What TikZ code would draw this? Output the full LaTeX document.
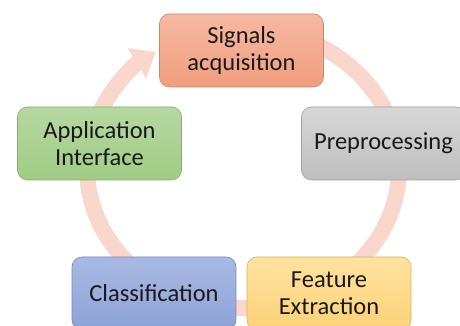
\documentclass[tikz,border=0pt]{standalone}
\usepackage{fontspec}
\setmainfont{Carlito}
\usepackage{tikz}
\usetikzlibrary{arrows.meta}

\definecolor{ringpink}{RGB}{249,215,205}
\definecolor{sigtop}{RGB}{246,185,162}
\definecolor{sigbot}{RGB}{240,158,126}
\definecolor{pretop}{RGB}{215,215,215}
\definecolor{prebot}{RGB}{190,190,190}
\definecolor{featop}{RGB}{255,226,160}
\definecolor{feabot}{RGB}{252,210,120}
\definecolor{clatop}{RGB}{170,185,228}
\definecolor{clabot}{RGB}{140,162,214}
\definecolor{apptop}{RGB}{182,216,160}
\definecolor{appbot}{RGB}{160,204,134}

\begin{document}
\begin{tikzpicture}
	[   x=1pt,y=1pt,
	    box/.style={draw=#1bot!85!black,line width=0.6pt,top color=#1top,bottom color=#1bot,
	    	rounded corners=10pt,minimum width=164pt,minimum height=73pt,align=center,
	    	text=black!90,font=\fontsize{24.5}{27}\selectfont},
	]
	\tikzset{ring arrow/.style={draw=ringpink,line width=16pt,-{Triangle[width=34pt,length=22pt]}}}
	\useasboundingbox (0,0) rectangle (460,326);
	
	\coordinate (c) at (243,158);
	
	% cycle behind the boxes
	\path[ring arrow] (c) ++(65:156 and 140) arc[start angle=65,end angle=-236,x radius=156,y radius=140];
	
	\node[box=sig] (sig) at (241.5,275.5) {Signals\\acquisition};
	\node[box=pre] (pre) at (383.5,182.5) {Preprocessing};
	\node[box=fea] (fea) at (329,32.5) {Feature\\Extraction};
	\node[box=cla] (cla) at (154,32.5) {Classification};
	\node[box=app] (app) at (99.5,182.5) {Application\\Interface};
	
\end{tikzpicture}
\end{document}
